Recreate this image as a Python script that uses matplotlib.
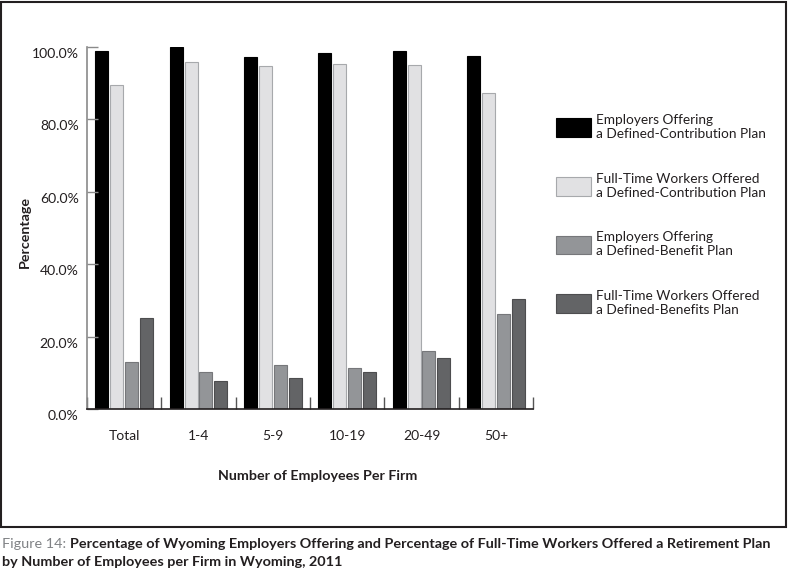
import numpy as np
import matplotlib
matplotlib.use('Agg')
import matplotlib.pyplot as plt
import matplotlib.transforms as mtransforms
from matplotlib.patches import Rectangle

plt.rcParams['font.family'] = ['Lato', 'DejaVu Sans']

# Data
groups = ['Total', '1-4', '5-9', '10-19', '20-49', '50+']
emp_dc = [98.9, 100.0, 97.2, 98.2, 98.9, 97.4]
workers_dc = [89.4, 95.7, 94.6, 95.3, 94.9, 87.1]
emp_db = [13.0, 10.3, 12.2, 11.4, 16.1, 26.1]
workers_db = [25.2, 7.8, 8.6, 10.1, 14.1, 30.4]

series = [emp_dc, workers_dc, emp_db, workers_db]
labels = ['Employers Offering\na Defined-Contribution Plan',
          'Full-Time Workers Offered\na Defined-Contribution Plan',
          'Employers Offering\na Defined-Benefit Plan',
          'Full-Time Workers Offered\na Defined-Benefits Plan']
fills = ['#000000', '#e1e1e3', '#939598', '#636466']
edges = ['#000000', '#a7a9ac', '#76777a', '#4d4d4f']

fig = plt.figure(figsize=(7.88, 5.75), dpi=100)
ax = fig.add_axes([87/788, 1 - 409/575, (533-87)/788, (409-46.7)/575])

x = np.arange(len(groups)) + 0.5
for k, vals in enumerate(series):
    ax.bar(x + (k - 1.5) * 0.2, vals, width=0.175, color=fills[k],
           edgecolor=edges[k], linewidth=0.8, label=labels[k])

ax.set_xlim(0, len(groups))
ax.set_ylim(0, 100)

# y axis
ax.set_yticks([0, 20, 40, 60, 80, 100])
ax.set_yticklabels(['%.1f%%' % v for v in [0, 20, 40, 60, 80, 100]])
ax.tick_params(axis='y', direction='in', length=8, color='#8a8a8a',
               width=1, labelsize=10.1, pad=6, labelcolor='#231f20')
offset = mtransforms.ScaledTranslation(0, -6/100, fig.dpi_scale_trans)
for lab in ax.get_yticklabels():
    lab.set_transform(lab.get_transform() + offset)

# x axis: boundary ticks, labels at group centres
ax.set_xticks(np.arange(len(groups) + 1))
ax.set_xticklabels([])
ax.tick_params(axis='x', which='major', direction='in', length=9,
               color='#555555', width=1)
ax.set_xticks(x, minor=True)
ax.set_xticklabels(groups, minor=True)
ax.tick_params(axis='x', which='minor', length=0, labelsize=10, pad=15,
               labelcolor='#231f20')

ax.spines['top'].set_visible(False)
ax.spines['right'].set_visible(False)
ax.spines['left'].set_color('#8a8a8a')
ax.spines['left'].set_linewidth(1.2)
ax.spines['bottom'].set_color('#231f20')
ax.spines['bottom'].set_linewidth(1.2)

fig.text(25/788, 1 - 232/575, 'Percentage', rotation=90, fontsize=10.3,
         fontweight='bold', ha='center', va='center', color='#231f20')
fig.text(318/788, 1 - 476/575, 'Number of Employees Per Firm', fontsize=10.3,
         fontweight='bold', ha='center', va='center', color='#231f20')

ax.legend(loc='upper left', bbox_to_anchor=(556/788, 1 - 114/575),
          bbox_transform=fig.transFigure, frameon=False, fontsize=9.8,
          borderaxespad=0, borderpad=0, handlelength=2.6, handleheight=1.75,
          handletextpad=0.35, labelspacing=2.4, labelcolor='#231f20')

# border around the chart area
fig.patches.append(Rectangle((1/788, 1 - 527/575), 785/788, 525/575,
                             transform=fig.transFigure, fill=False,
                             edgecolor='#231f20', linewidth=1.5))

# caption
t1 = fig.text(2/788, 1 - 544/575, 'Figure 14: ', fontsize=10.4,
              color='#808285', va='center', ha='left')
ax.annotate('Percentage of Wyoming Employers Offering and Percentage of '
            'Full-Time Workers Offered a Retirement Plan',
            xy=(1, 0.5), xycoords=t1, va='center', ha='left',
            fontsize=10.4, fontweight='bold', color='#231f20')
fig.text(2/788, 1 - 562/575, 'by Number of Employees per Firm in Wyoming, 2011',
         fontsize=10.4, fontweight='bold', color='#231f20', va='center',
         ha='left')

fig.savefig('out.png', dpi=100)
